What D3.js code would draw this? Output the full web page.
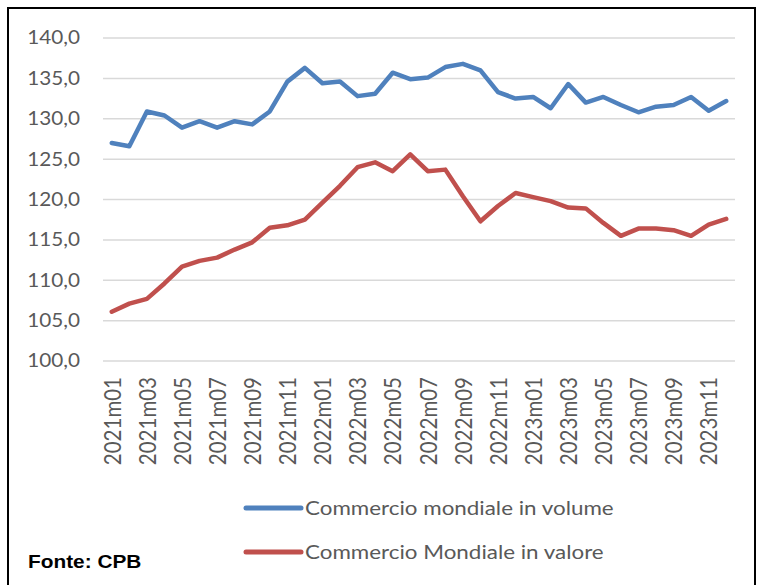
<!DOCTYPE html>
<html>
<head>
<meta charset="utf-8">
<script src="https://cdn.jsdelivr.net/npm/d3@7"></script>
<style>
  body { margin: 0; background: #fff; }
  svg { display: block; }
  text { font-family: Lato, "Open Sans", sans-serif; fill: #595959; }
</style>
</head>
<body>
<svg id="chart" width="757" height="585"></svg>
<script>
// monthly index values
const months = [
  "2021m01","2021m02","2021m03","2021m04","2021m05","2021m06",
  "2021m07","2021m08","2021m09","2021m10","2021m11","2021m12",
  "2022m01","2022m02","2022m03","2022m04","2022m05","2022m06",
  "2022m07","2022m08","2022m09","2022m10","2022m11","2022m12",
  "2023m01","2023m02","2023m03","2023m04","2023m05","2023m06",
  "2023m07","2023m08","2023m09","2023m10","2023m11","2023m12"
];
const volume = [
  127.0, 126.6, 130.9, 130.4, 128.9, 129.7, 128.9, 129.7, 129.3, 130.9, 134.6, 136.3,
  134.4, 134.6, 132.8, 133.1, 135.7, 134.9, 135.1, 136.4, 136.8, 136.0, 133.3, 132.5,
  132.7, 131.3, 134.3, 132.0, 132.7, 131.7, 130.8, 131.5, 131.7, 132.7, 131.0, 132.2
];
const valore = [
  106.1, 107.1, 107.7, 109.6, 111.7, 112.4, 112.8, 113.8, 114.7, 116.5, 116.8, 117.5,
  119.6, 121.7, 124.0, 124.6, 123.5, 125.6, 123.5, 123.7, 120.4, 117.3, 119.2, 120.8,
  120.3, 119.8, 119.0, 118.9, 117.1, 115.5, 116.4, 116.4, 116.2, 115.5, 116.9, 117.6
];
const yTicks = [100, 105, 110, 115, 120, 125, 130, 135, 140];
const seriesNames = ["Commercio mondiale in volume", "Commercio Mondiale in valore"];
const seriesColors = ["#4f81bd", "#c0504d"];
const sourceNote = "Fonte: CPB";

const svg = d3.select('#chart');
const plot = { left: 103, right: 735, top: 38, bottom: 361 };
const sx = 1.12; // the original text is a bit wide

// frame
svg.append('rect')
   .attr('x', 8).attr('y', 8)
   .attr('width', 747).attr('height', 600)
   .attr('fill', 'none')
   .attr('stroke', '#000')
   .attr('stroke-width', 2);

const x = d3.scalePoint()
            .domain(months)
            .range([plot.left, plot.right])
            .padding(0.5);

const y = d3.scaleLinear()
            .domain([100, 140])
            .range([plot.bottom, plot.top]);

const it = d3.formatLocale({ decimal: ",", thousands: ".", grouping: [3], currency: ["", "€"] });
const fmt = it.format(".1f");

// gridlines
svg.append('g')
   .selectAll('line')
   .data(yTicks)
   .enter().append('line')
     .attr('x1', plot.left)
     .attr('x2', plot.right)
     .attr('y1', d => y(d))
     .attr('y2', d => y(d))
     .attr('stroke', '#d9d9d9')
     .attr('stroke-width', 1.5);

// Y-axis
const yAxis = svg.append('g')
   .attr('transform', `translate(${plot.left},0)`)
   .call(d3.axisLeft(y).tickValues(yTicks).tickFormat(fmt).tickSize(0).tickPadding(23 / sx));
yAxis.select('.domain').remove();
yAxis.selectAll('text')
     .attr('fill', '#595959')
     .style('font-size', '18.5px')
     .style('font-family', 'Lato, sans-serif')
     .attr('transform', `scale(${sx},1)`);

// X-axis, every second month
const xAxis = svg.append('g')
   .attr('transform', `translate(0,${plot.bottom})`)
   .call(d3.axisBottom(x).tickValues(months.filter((d, i) => i % 2 === 0)).tickSize(0));
xAxis.select('.domain').remove();
xAxis.selectAll('text')
     .attr('fill', '#595959')
     .style('font-size', '20.5px')
     .style('font-family', 'Lato, sans-serif')
     .style('text-anchor', 'end')
     .attr('x', -16)
     .attr('y', 0)
     .attr('dy', '0.36em')
     .attr('transform', `scale(${sx},1) rotate(-90)`);

// lines
const line = d3.line()
               .x((d, i) => x(months[i]))
               .y(d => y(d));

[volume, valore].forEach((series, k) => {
    svg.append('path')
       .datum(series)
       .attr('d', line)
       .attr('fill', 'none')
       .attr('stroke', seriesColors[k])
       .attr('stroke-width', 4.5)
       .attr('stroke-linejoin', 'round')
       .attr('stroke-linecap', 'round');
});

// legend
const legend = svg.append('g')
   .selectAll('g')
   .data(seriesNames)
   .enter().append('g')
     .attr('transform', (d, i) => `translate(246,${508 + i * 44})`);

legend.append('line')
      .attr('x1', 0).attr('x2', 55)
      .attr('stroke', (d, i) => seriesColors[i])
      .attr('stroke-width', 5)
      .attr('stroke-linecap', 'round');

legend.append('text')
      .attr('transform', `translate(59,0) scale(${sx},1)`)
      .attr('dy', '0.36em')
      .style('font-size', '20px')
      .text(d => d);

// source
svg.append('text')
   .attr('transform', `translate(28,568) scale(${sx},1)`)
   .style('font-family', '"Liberation Sans", Arial, sans-serif')
   .style('font-weight', 'bold')
   .style('font-size', '18.6px')
   .style('fill', '#000')
   .text(sourceNote);
</script>
</body>
</html>
